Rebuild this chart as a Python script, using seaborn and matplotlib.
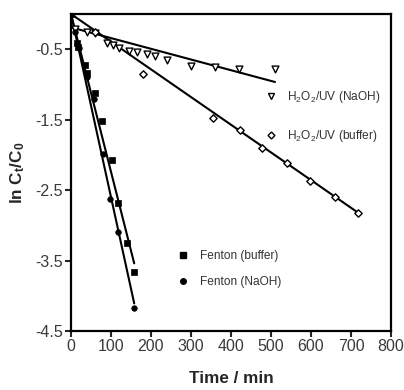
import numpy as np
import pandas as pd
import matplotlib
matplotlib.use("Agg")
import matplotlib.pyplot as plt
import seaborn as sns
from matplotlib.lines import Line2D

# Measured degradation data: ln(Ct/C0) versus time (min)
uv_naoh_t = [0, 10, 40, 60, 90, 105, 120, 145, 165, 190, 210, 240, 300, 360, 420, 510]
uv_naoh_v = [0, -0.21, -0.25, -0.27, -0.41, -0.44, -0.48, -0.52, -0.54, -0.57, -0.60,
             -0.65, -0.74, -0.75, -0.78, -0.78]

uv_buffer_t = [0, 60, 180, 355, 422, 478, 540, 598, 660, 718]
uv_buffer_v = [0, -0.26, -0.85, -1.47, -1.65, -1.90, -2.11, -2.37, -2.60, -2.83]

fenton_buffer_t = [0, 15, 18, 35, 40, 60, 77, 102, 118, 140, 158]
fenton_buffer_v = [0, -0.41, -0.47, -0.72, -0.84, -1.12, -1.52, -2.07, -2.68, -3.25, -3.66]

fenton_naoh_t = [0, 10, 20, 40, 57, 80, 97, 118, 158]
fenton_naoh_v = [0, -0.25, -0.48, -0.90, -1.20, -1.99, -2.62, -3.09, -4.17]

# Linear fits: intercept, slope, end time
fit_names = ["uv_naoh", "uv_buffer", "fenton_buffer", "fenton_naoh"]
fit_intercept = [-0.19, 0.0, 0.0, 0.0]
fit_slope = [-0.00152, -0.00393, -0.0224, -0.0260]
fit_end = [510, 720, 158, 158]

x_ticks = [0, 100, 200, 300, 400, 500, 600, 700, 800]
y_ticks = [-0.5, -1.5, -2.5, -3.5, -4.5]

sns.set_theme(style="ticks")
plt.rcParams["font.family"] = ["Liberation Sans", "DejaVu Sans"]
plt.rcParams["mathtext.fontset"] = "custom"
plt.rcParams["mathtext.rm"] = "Liberation Sans"
plt.rcParams["mathtext.it"] = "Liberation Sans:italic"
plt.rcParams["mathtext.bf"] = "Liberation Sans:bold"

fig = plt.figure(figsize=(4.04, 3.90), dpi=100)
ax = fig.add_axes([71 / 404, 1 - 331 / 390, 320 / 404, 317 / 390])

# fitted lines
rows = []
for name, b, m, tend in zip(fit_names, fit_intercept, fit_slope, fit_end):
    for tt in (0, tend):
        rows.append({"fit": name, "t": tt, "v": b + m * tt})
fits = pd.DataFrame(rows)
for name in fit_names:
    sns.lineplot(data=fits[fits["fit"] == name], x="t", y="v", color="black",
                 lw=1.5, ax=ax, legend=False, zorder=2)

sns.scatterplot(x=uv_naoh_t, y=uv_naoh_v, ax=ax, marker="v", s=24,
                facecolor="white", edgecolor="black", linewidth=1.0, zorder=3)
sns.scatterplot(x=uv_buffer_t, y=uv_buffer_v, ax=ax, marker="D", s=14,
                facecolor="white", edgecolor="black", linewidth=1.0, zorder=3)
sns.scatterplot(x=fenton_buffer_t, y=fenton_buffer_v, ax=ax, marker="s", s=22,
                color="black", edgecolor="black", linewidth=0.5, zorder=4)
sns.scatterplot(x=fenton_naoh_t, y=fenton_naoh_v, ax=ax, marker="o", s=16,
                color="black", edgecolor="black", linewidth=0.5, zorder=4)

kw = dict(ls="none", color="black")
h1 = Line2D([], [], marker="v", ms=5.0, mfc="white", mec="black", mew=1.0, **kw)
h2 = Line2D([], [], marker="D", ms=3.5, mfc="white", mec="black", mew=1.0, **kw)
h3 = Line2D([], [], marker="s", ms=4.5, mfc="black", mec="black", **kw)
h4 = Line2D([], [], marker="o", ms=4.0, mfc="black", mec="black", **kw)

leg1 = ax.legend([h1, h2], ["H$_2$O$_2$/UV (NaOH)", "H$_2$O$_2$/UV (buffer)"],
                 loc="center left", bbox_to_anchor=(0.606, 0.677), frameon=False,
                 fontsize=8.6, handlelength=1.0, handletextpad=0.85,
                 labelspacing=1.9, borderpad=0, borderaxespad=0)
for t in leg1.get_texts():
    t.set_color("#333333")
ax.add_artist(leg1)
leg2 = ax.legend([h3, h4], ["Fenton (buffer)", "Fenton (NaOH)"],
                 loc="center left", bbox_to_anchor=(0.331, 0.196), frameon=False,
                 fontsize=8.6, handlelength=1.0, handletextpad=0.92,
                 labelspacing=1.15, borderpad=0, borderaxespad=0)
for t in leg2.get_texts():
    t.set_color("#333333")

ax.set_xlim(0, 800)
ax.set_ylim(-4.5, 0)
ax.set_xticks(x_ticks)
ax.set_yticks(y_ticks)
ax.set_xticklabels([str(v) for v in x_ticks])
ax.set_yticklabels([f"{v:.1f}" for v in y_ticks])
ax.tick_params(axis="both", direction="out", length=4, width=1.5,
               labelsize=11.5, labelcolor="#3a3a3a", pad=2)
for sp in ax.spines.values():
    sp.set_visible(True)
    sp.set_linewidth(1.6)
    sp.set_color("black")

ax.set_xlabel("Time / min", fontsize=12.3, fontweight="bold", labelpad=12)
ax.set_ylabel("ln C$_\\mathbf{t}$/C$_\\mathbf{0}$", fontsize=12.3,
              fontweight="bold", labelpad=6)

fig.savefig("out.png", dpi=100)
